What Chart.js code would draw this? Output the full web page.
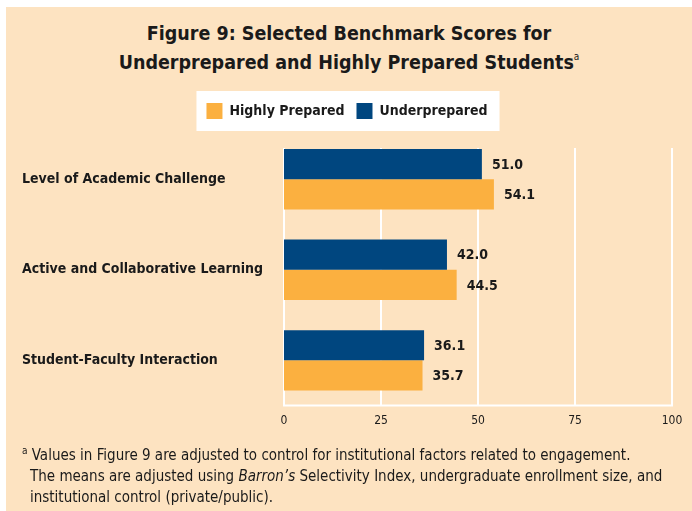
<!DOCTYPE html>
<html lang="en">
<head>
    <meta charset="UTF-8">
    <title>Figure 9: Selected Benchmark Scores</title>
    <!-- Chart.js library -->
    <script src="https://cdn.jsdelivr.net/npm/chart.js"></script>
    <style>
        body { margin: 0; background: #ffffff; }
        /* peach panel behind everything */
        #panel {
            position: absolute; left: 6px; top: 7px;
            width: 686px; height: 504px;
            background: #fde3c1;
        }
        #chartBox {
            position: absolute; left: 0; top: 0;
            width: 692px; height: 511px;
        }
        .txt {
            position: absolute;
            font-family: "DejaVu Sans Condensed", "DejaVu Sans", sans-serif;
            color: #1a1a1a;
        }
        #title {
            left: 6px; width: 686px; top: 19px;
            text-align: center; font-weight: bold;
            font-size: 19.5px; line-height: 29px;
        }
        sup { line-height: 0; vertical-align: baseline; position: relative; }
        #title sup { font-size: 10px; top: -9px; font-weight: normal; }
        #note { left: 22px; top: 445px; font-size: 15px; line-height: 21px; white-space: nowrap; }
        #note sup { font-size: 10px; top: -6px; }
        #note .ind { padding-left: 8px; }
    </style>
</head>
<body>
    <div id="panel"></div>
    <div class="txt" id="title">Figure 9: Selected Benchmark Scores for<br>Underprepared and Highly Prepared Students<sup>a</sup></div>
    <div id="chartBox">
        <canvas id="benchChart" width="692" height="511"></canvas>
    </div>
    <div class="txt" id="note">
        <div><sup>a</sup> Values in Figure 9 are adjusted to control for institutional factors related to engagement.</div>
        <div class="ind">The means are adjusted using <i>Barron’s</i> Selectivity Index, undergraduate enrollment size, and</div>
        <div class="ind">institutional control (private/public).</div>
    </div>

    <script>
        // chart data
        const categories = ['Level of Academic Challenge', 'Active and Collaborative Learning', 'Student-Faculty Interaction'];
        const underprepared = [51.0, 42.0, 36.1];
        const highlyPrepared = [54.1, 44.5, 35.7];
        const xTicks = [0, 25, 50, 75, 100];

        const NAVY = '#00467f';
        const ORANGE = '#fbb040';
        const INK = '#1a1a1a';
        const FONT = '"DejaVu Sans Condensed", "DejaVu Sans", sans-serif';

        // white box behind the legend
        const legendBox = {
            id: 'legendBox',
            beforeDraw(chart) {
                const boxes = chart.legend && chart.legend.legendHitBoxes;
                if (!boxes || !boxes.length) return;
                let l = Infinity, t = Infinity, r = -Infinity, b = -Infinity;
                boxes.forEach(h => {
                    l = Math.min(l, h.left); t = Math.min(t, h.top);
                    r = Math.max(r, h.left + h.width); b = Math.max(b, h.top + h.height);
                });
                const ctx = chart.ctx;
                ctx.save();
                ctx.fillStyle = '#ffffff';
                ctx.fillRect(l - 10, t - 12, (r - l) + 22, (b - t) + 24);
                ctx.restore();
            }
        };

        // white grid lines, starting at the top of the first bar
        const whiteGrid = {
            id: 'whiteGrid',
            beforeDatasetsDraw(chart) {
                const x = chart.scales.x;
                const area = chart.chartArea;
                const first = chart.getDatasetMeta(0).data[0];
                const top = first ? first.y - first.height / 2 - 1 : area.top;
                const ctx = chart.ctx;
                ctx.save();
                ctx.strokeStyle = '#ffffff';
                ctx.lineWidth = 2;
                ctx.beginPath();
                xTicks.forEach(v => {
                    const px = Math.round(x.getPixelForValue(v));
                    ctx.moveTo(px, top);
                    ctx.lineTo(px, area.bottom);
                });
                ctx.moveTo(x.getPixelForValue(xTicks[0]) - 1, area.bottom);
                ctx.lineTo(x.getPixelForValue(xTicks[xTicks.length - 1]) + 1, area.bottom);
                ctx.stroke();
                ctx.restore();
            }
        };

        // value labels after each bar
        const valueLabels = {
            id: 'valueLabels',
            afterDatasetsDraw(chart) {
                const ctx = chart.ctx;
                ctx.save();
                ctx.fillStyle = INK;
                ctx.font = 'bold 14px ' + FONT;
                ctx.textAlign = 'left';
                ctx.textBaseline = 'middle';
                chart.data.datasets.forEach((ds, i) => {
                    chart.getDatasetMeta(i).data.forEach((bar, j) => {
                        ctx.fillText(ds.data[j].toFixed(1), bar.x + 10, bar.y + 1);
                    });
                });
                ctx.restore();
            }
        };

        const ctx = document.getElementById('benchChart').getContext('2d');
        const benchChart = new Chart(ctx, {
            type: 'bar',
            data: {
                labels: categories,
                datasets: [
                    {
                        label: 'Underprepared',
                        data: underprepared,
                        backgroundColor: NAVY,
                        borderWidth: 0,
                        categoryPercentage: 2 / 3,
                        barPercentage: 1
                    },
                    {
                        label: 'Highly Prepared',
                        data: highlyPrepared,
                        backgroundColor: ORANGE,
                        borderWidth: 0,
                        categoryPercentage: 2 / 3,
                        barPercentage: 1
                    }
                ]
            },
            options: {
                indexAxis: 'y',
                responsive: false,
                maintainAspectRatio: false,
                animation: false,
                layout: { padding: { top: 91, left: 22, right: 20, bottom: 75 } },
                plugins: {
                    legend: {
                        position: 'top',
                        reverse: true,
                        labels: {
                            boxWidth: 16,
                            boxHeight: 16,
                            padding: 12,
                            color: INK,
                            font: { family: FONT, size: 14, weight: 'bold' }
                        }
                    },
                    tooltip: { enabled: false }
                },
                scales: {
                    x: {
                        min: 0,
                        max: 100,
                        grid: { display: false, drawTicks: false },
                        border: { display: false },
                        afterBuildTicks: s => { s.ticks = xTicks.map(v => ({ value: v })); },
                        ticks: {
                            color: INK,
                            padding: 8,
                            font: { family: FONT, size: 12 }
                        }
                    },
                    // empty strip above the plot, keeps a gap under the legend
                    xTop: {
                        type: 'linear',
                        position: 'top',
                        min: 0,
                        max: 100,
                        grid: { display: false, drawTicks: false },
                        border: { display: false },
                        ticks: { display: false },
                        afterFit: s => { s.height = 5; }
                    },
                    y: {
                        grid: { display: false, drawTicks: false },
                        border: { display: false },
                        afterFit: s => { s.width = 262; },
                        ticks: {
                            crossAlign: 'far',
                            color: INK,
                            font: { family: FONT, size: 14, weight: 'bold' }
                        }
                    }
                }
            },
            plugins: [legendBox, whiteGrid, valueLabels]
        });
    </script>
</body>
</html>
